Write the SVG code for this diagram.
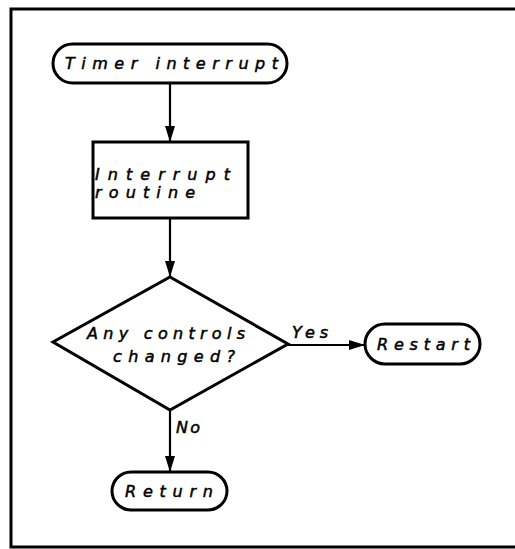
<svg xmlns="http://www.w3.org/2000/svg" width="515" height="549" viewBox="0 0 515 549">
<defs>
<style>
.s{fill:#fff;stroke:#000;stroke-width:3}
.t{font-family:"DejaVu Sans",sans-serif;font-style:italic;font-size:16px;fill:#000;stroke:#000;stroke-width:0.5}
.c{fill:none;stroke:#000;stroke-width:2.2}
</style>
<marker id="ah" viewBox="0 0 16 10" refX="16" refY="5" markerWidth="16" markerHeight="10" markerUnits="userSpaceOnUse" orient="auto">
<path d="M0,0 L16,5 L0,10 Z" fill="#000"/>
</marker>
</defs>
<rect width="515" height="549" fill="#fff"/>
<path d="M520,9 H11 V547 H520" fill="none" stroke="#000" stroke-width="3"/>
<g id="connectors">
<line class="c" x1="170" y1="83" x2="170" y2="142" marker-end="url(#ah)"/>
<line class="c" x1="170" y1="218" x2="170" y2="277" marker-end="url(#ah)"/>
<line class="c" x1="288" y1="345" x2="365" y2="345" marker-end="url(#ah)"/>
<line class="c" x1="170" y1="410" x2="170" y2="472" marker-end="url(#ah)"/>
<text class="t" x="292" y="338" textLength="36" lengthAdjust="spacing">Yes</text>
<text class="t" x="176" y="433" textLength="24" lengthAdjust="spacing">No</text>
</g>
<g id="timer">
<rect class="s" x="53" y="44" width="234" height="39" rx="19.5"/>
<text class="t" x="65" y="69" textLength="213" lengthAdjust="spacing">Timer interrupt</text>
</g>
<g id="routine">
<rect class="s" x="93" y="142" width="155" height="76"/>
<text class="t" x="95" y="180" textLength="135" lengthAdjust="spacing">Interrupt</text>
<text class="t" x="95" y="198" textLength="100" lengthAdjust="spacing">routine</text>
</g>
<g id="decision">
<polygon class="s" points="170,277 288,344 170,410 53,342"/>
<text class="t" x="87" y="339" textLength="158" lengthAdjust="spacing">Any controls</text>
<text class="t" x="113" y="362" textLength="122" lengthAdjust="spacing">changed?</text>
</g>
<g id="restart">
<rect class="s" x="365" y="324" width="115" height="40" rx="20"/>
<text class="t" x="377" y="350" textLength="93" lengthAdjust="spacing">Restart</text>
</g>
<g id="return">
<rect class="s" x="112" y="472" width="115" height="38" rx="19"/>
<text class="t" x="125" y="497" textLength="88" lengthAdjust="spacing">Return</text>
</g>
</svg>
